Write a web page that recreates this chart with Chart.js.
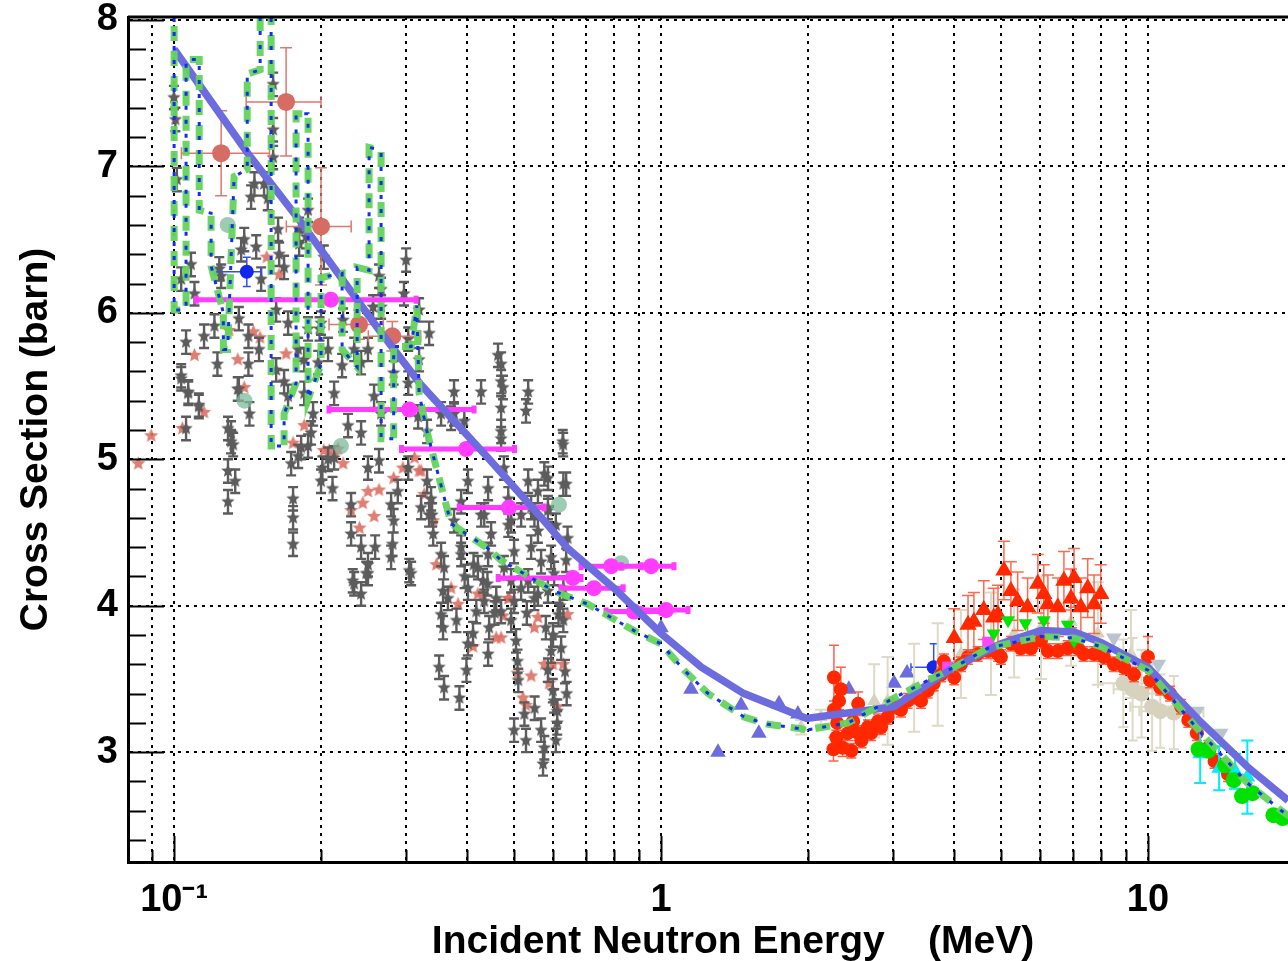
<!DOCTYPE html>
<html>
<head>
<meta charset="utf-8">
<script src="https://cdn.jsdelivr.net/npm/chart.js@4.4.1/dist/chart.umd.min.js"></script>
<style>
  html, body { margin: 0; padding: 0; background: #fff; }
  canvas { display: block; }
</style>
</head>
<body>
<canvas id="xsChart" width="1288" height="961"></canvas>
<script>
// ---- axes ----
const xTicks = [0.09, 0.1, 0.2, 0.3, 0.4, 0.5, 0.6, 0.7, 0.8, 0.9, 1, 2, 3, 4, 5, 6, 7, 8, 9, 10];
const xLabels = { 0.1: '10\u207B\u00B9', 1: '1', 10: '10' };
const yTicks = [];
for (let k = 12; k <= 40; k++) yTicks.push(k / 5);
const xTitle = 'Incident Neutron Energy    (MeV)';
const yTitle = 'Cross Section (barn)';

// ---- evaluated curves ----
const evalE  = [0.1, 0.142, 0.182, 0.262, 0.321, 0.441, 0.575, 0.644, 0.80, 1.0, 1.21, 1.48, 1.99, 3.01, 3.99, 4.99, 6.03, 7.05, 8.0, 10.0, 12.7, 16.0, 19.4, 21];
const evalXS = [7.80, 7.085, 6.62, 5.895, 5.51, 5.01, 4.58, 4.39, 4.12, 3.81, 3.58, 3.40, 3.23, 3.31, 3.58, 3.74, 3.83, 3.82, 3.75, 3.58, 3.22, 2.90, 2.67, 2.55];

const resE  = [0.1, 0.1, 0.1058, 0.1058, 0.1126, 0.1126, 0.1191, 0.1191, 0.1262, 0.1262, 0.1288, 0.1328, 0.1413, 0.1413, 0.1502, 0.1502, 0.1582, 0.1582, 0.1682, 0.1682, 0.1780, 0.1780, 0.1884, 0.1884, 0.2003, 0.2003, 0.2213, 0.2213, 0.2376, 0.2376, 0.2514, 0.2514, 0.2661, 0.2661, 0.2824, 0.2824, 0.3067, 0.3150, 0.3185, 0.3300, 0.3420, 0.3705, 0.4414, 0.4694, 0.516, 0.603, 0.708, 0.880, 1.0, 1.115, 1.249, 1.481, 1.658, 1.938, 1.98, 2.42, 3.01, 3.53, 4.0, 4.69, 6.03, 7.05, 8.0, 10.0, 12.7, 16.0, 18.8, 20.2];
const resXS = [8.3, 6.02, 6.02, 7.73, 7.73, 6.70, 6.68, 6.32, 6.00, 5.75, 5.75, 6.93, 6.98, 7.63, 7.66, 8.3, 8.3, 5.09, 5.09, 5.31, 5.52, 7.36, 7.36, 5.41, 5.65, 6.24, 6.27, 5.75, 5.63, 6.31, 6.29, 7.13, 7.11, 5.14, 5.14, 5.77, 5.77, 6.05, 5.45, 5.20, 5.00, 4.56, 4.39, 4.31, 4.23, 4.10, 4.01, 3.83, 3.74, 3.56, 3.40, 3.24, 3.19, 3.16, 3.15, 3.20, 3.37, 3.49, 3.58, 3.71, 3.79, 3.78, 3.72, 3.56, 3.15, 2.79, 2.60, 2.53];

// ---- measurements below 1 MeV ----
const grayE = [0.0999, 0.1006, 0.1013, 0.1083, 0.1034, 0.1101, 0.1058, 0.1152, 0.1210, 0.1227, 0.1034, 0.1069, 0.1124, 0.1058, 0.1249, 0.1238, 0.1373, 0.1393, 0.1474, 0.1509, 0.1358, 0.1421, 0.1494, 0.1421, 0.1358, 0.1428, 0.1309, 0.1322, 0.1462, 0.1439, 0.1530, 0.1557, 0.1597, 0.1597, 0.1597, 0.1635, 0.1643, 0.1682, 0.1620, 0.1714, 0.1620, 0.1682, 0.1714, 0.1806, 0.1806, 0.1867, 0.2030, 0.1884, 0.1798, 0.1850, 0.1884, 0.1850, 0.1929, 0.2003, 0.2071, 0.2223, 0.2213, 0.2343, 0.2421, 0.2501, 0.2562, 0.2635, 0.2661, 0.2661, 0.2574, 0.2661, 0.2824, 0.2995, 0.2965, 0.3025, 0.3025, 0.3185, 0.3185, 0.3170, 0.3340, 0.2421, 0.2276, 0.2071, 0.1884, 0.1798, 0.1911, 0.2131, 0.1976, 0.1989,
  0.1034, 0.1069, 0.1124, 0.1290, 0.1309, 0.1290, 0.1335, 0.1290, 0.1351, 0.1755, 0.1755, 0.1755, 0.1739, 0.1823, 0.2003, 0.2016, 0.2115, 0.2131, 0.2309, 0.2309, 0.2327, 0.2421, 0.2501, 0.2501, 0.2587, 0.2501, 0.2635, 0.2790, 0.2824, 0.2809, 0.2790, 0.2880, 0.3025, 0.3040, 0.3215, 0.3307, 0.3387, 0.3404, 0.3567, 0.3534, 0.3757, 0.3885, 0.3885, 0.4012, 0.4120, 0.4270, 0.4270, 0.4309, 0.4414, 0.4477, 0.4625, 0.4694, 0.4694, 0.4694, 0.4855, 0.4756, 0.4921, 0.4991, 0.5334, 0.5280, 0.5410, 0.5587, 0.5758, 0.5857, 0.5946, 0.6295, 0.6384, 0.5494, 0.5857, 0.6031, 0.3757, 0.3705, 0.3944, 0.3534, 0.3307, 0.5334, 0.4694, 0.2343, 0.2481, 0.2421,
  0.3534, 0.3567, 0.3501, 0.3584, 0.3854, 0.3984, 0.4012, 0.4110, 0.4174, 0.4334, 0.4435, 0.4414, 0.4587, 0.4694, 0.4921, 0.5037, 0.5073, 0.5091, 0.4991, 0.5241, 0.5280, 0.5671, 0.5758, 0.5723, 0.5857, 0.5946, 0.5994, 0.6031, 0.6120, 0.6120, 0.6080, 0.6234, 0.6300, 0.6300, 0.6384, 0.6427, 0.6158, 0.5587, 0.5334, 0.4991, 0.5494, 0.5587, 0.5857, 0.5857, 0.6300, 0.6281, 0.4735, 0.4694, 0.3757, 0.3371, 0.3339, 0.3067, 0.3584, 0.3885, 0.4012, 0.4206, 0.4414, 0.4334, 0.4855, 0.5160, 0.4756, 0.4921, 0.5160,
  0.5410, 0.5671, 0.6080, 0.6200, 0.5800, 0.5300, 0.6000, 0.6350, 0.6400, 0.5500, 0.3650, 0.3800, 0.3950, 0.4400, 0.4550];
const grayXS = [7.47, 7.32, 6.91, 6.33, 6.23, 6.13, 5.80, 5.84, 5.91, 5.65, 5.57, 5.45, 5.37, 5.21, 6.25, 6.30, 6.43, 6.50, 6.45, 6.23, 5.96, 5.84, 5.75, 5.65, 5.48, 5.31, 5.18, 5.10, 6.88, 6.79, 6.88, 6.78, 7.56, 7.25, 7.06, 6.57, 6.40, 6.31, 6.02, 5.93, 5.61, 5.53, 5.43, 6.57, 6.47, 6.52, 6.38, 6.70, 5.75, 5.68, 5.89, 5.45, 5.31, 5.93, 5.75, 5.95, 5.64, 5.75, 5.66, 5.75, 6.04, 6.25, 6.16, 6.04, 5.43, 5.31, 5.59, 6.36, 6.13, 5.82, 5.52, 6.02, 5.68, 5.29, 5.86, 5.18, 5.23, 5.00, 5.09, 5.02, 5.18, 5.45, 5.66, 5.89,
  5.55, 5.46, 5.36, 5.21, 5.12, 4.92, 4.85, 4.71, 5.48, 4.73, 4.60, 4.42, 4.97, 5.08, 4.85, 4.94, 4.80, 5.01, 4.69, 4.49, 4.17, 4.40, 4.28, 4.22, 4.40, 4.94, 4.99, 4.69, 4.58, 4.42, 4.33, 4.78, 4.94, 4.24, 4.67, 4.85, 4.62, 4.49, 4.10, 4.35, 4.58, 4.40, 4.71, 4.85, 4.28, 4.62, 5.46, 4.17, 4.80, 4.49, 5.71, 5.53, 5.35, 5.14, 4.73, 4.94, 4.58, 4.37, 4.85, 5.33, 4.67, 4.51, 4.90, 4.65, 4.33, 5.10, 4.83, 4.05, 4.10, 4.22, 5.46, 5.28, 5.26, 5.31, 5.19, 5.46, 5.65, 4.15, 4.22, 4.08,
  3.94, 3.85, 3.58, 3.44, 3.37, 3.56, 3.74, 3.81, 3.96, 4.03, 3.85, 3.67, 4.05, 3.96, 3.90, 3.76, 3.62, 3.49, 3.15, 3.26, 3.08, 3.15, 3.03, 2.92, 3.56, 3.69, 3.42, 3.35, 3.28, 3.20, 3.08, 3.71, 3.90, 4.12, 4.31, 4.46, 3.94, 4.08, 4.17, 4.03, 4.62, 4.78, 4.87, 4.67, 4.83, 5.12, 5.49, 5.19, 5.31, 4.73, 4.62, 4.22, 4.26, 4.35, 4.12, 4.26, 4.35, 4.62, 4.55, 4.62, 4.26, 4.17, 4.12,
  4.40, 4.30, 4.55, 4.00, 3.85, 3.95, 3.80, 3.55, 3.40, 3.30, 4.05, 3.90, 4.20, 4.15, 3.95];
const grayErr = 0.08;

const starE  = [0.0844, 0.0897, 0.1101, 0.1152, 0.1040, 0.1297, 0.1351, 0.1455, 0.1501, 0.1393, 0.1698, 0.1755, 0.1850, 0.2030, 0.2131, 0.2223, 0.2501, 0.2635, 0.2440, 0.2574, 0.2403, 0.2309, 0.3215, 0.2824, 0.2950, 0.3117, 0.3455, 0.3705, 0.4309, 0.4875, 0.3829, 0.3185, 0.3263, 0.3404, 0.4110, 0.4587, 0.4735, 0.4694, 0.5587, 0.5494, 0.4855, 0.4206, 0.5073, 0.5410, 0.5206, 0.5280, 0.5758, 0.5994, 0.6300, 0.6120, 0.5891, 0.6427, 0.1550, 0.1643, 0.2081, 0.2171];
const starXS = [4.97, 5.16, 5.71, 5.32, 5.21, 5.88, 5.68, 5.87, 5.83, 5.49, 5.72, 5.11, 5.23, 5.06, 5.03, 4.97, 4.78, 4.79, 4.70, 4.61, 4.53, 4.65, 4.92, 4.87, 4.94, 5.01, 4.28, 4.12, 4.07, 4.05, 4.01, 4.92, 4.76, 4.58, 3.72, 3.78, 3.93, 3.78, 3.92, 3.85, 4.05, 4.08, 3.54, 3.52, 3.37, 3.32, 3.60, 3.60, 3.60, 3.31, 3.47, 3.94, 6.38, 6.26, 5.06, 5.07];

const bigE   = [0.1249, 0.1698, 0.2003, 0.2398, 0.2806];
const bigXS  = [7.09, 7.44, 6.59, 5.92, 5.84];
const bigELo = [0.1035, 0.1406, 0.170, 0.208, 0.2505];
const bigEHi = [0.157, 0.2003, 0.231, 0.269, 0.321];
const bigErr = [0.29, 0.37, 0.40, 0.10, 0.10];

const tealE  = [0.1288, 0.1395, 0.2201, 0.617, 0.828];
const tealXS = [6.60, 5.40, 5.09, 4.69, 4.29];

const magE   = [0.2098, 0.304, 0.398, 0.487, 0.659, 0.728, 0.790, 0.954, 0.880, 1.024];
const magXS  = [6.09, 5.34, 5.07, 4.67, 4.19, 4.12, 4.27, 4.27, 3.96, 3.97];
const magELo = [0.111, 0.208, 0.293, 0.385, 0.463, 0.623, 0.685, 0.828, 0.771, 0.910];
const magEHi = [0.314, 0.413, 0.50, 0.575, 0.685, 0.836, 0.910, 1.063, 1.0, 1.136];

const blueE = [0.141, 3.63], blueXS = [6.28, 3.58];
const blueELo = [0.121, 3.26], blueEHi = [0.151, 3.63], blueErr = [0.10, 0.16];

// ---- measurements above 1 MeV ----
const triE  = [1.0, 1.152, 1.309, 1.46, 1.588, 1.747, 1.91, 2.43, 2.63, 3.01, 3.20];
const triXS = [3.85, 3.43, 3.0, 3.32, 3.13, 3.33, 3.26, 3.43, 3.17, 3.47, 3.54];

const redE   = [2.265, 2.34, 2.32, 2.265, 2.30, 2.29, 2.26, 2.36, 2.42, 2.48, 2.54, 2.54, 2.58, 2.66, 2.70, 2.79, 2.83, 2.92, 3.01, 3.11, 3.21, 3.31, 3.42, 3.53, 3.63, 3.76, 3.81, 4.0, 4.13, 4.27, 4.47, 4.69, 4.92, 4.99, 5.23, 5.48, 5.75, 6.03, 6.23, 6.53, 6.84, 7.18, 7.38, 7.75, 8.12, 8.51, 8.93, 9.36, 10.0, 10.1, 10.6, 11.1, 11.7, 12.1, 12.6, 13.3, 13.7, 14.6, 2.46];
const redXS  = [3.51, 3.43, 3.35, 3.29, 3.20, 3.10, 3.02, 3.03, 3.13, 3.21, 3.33, 3.13, 3.08, 3.17, 3.13, 3.21, 3.17, 3.24, 3.31, 3.29, 3.35, 3.38, 3.35, 3.42, 3.47, 3.53, 3.62, 3.51, 3.60, 3.65, 3.67, 3.69, 3.67, 3.65, 3.74, 3.71, 3.71, 3.76, 3.69, 3.69, 3.71, 3.71, 3.67, 3.67, 3.65, 3.60, 3.58, 3.53, 3.65, 3.49, 3.44, 3.40, 3.31, 3.22, 3.13, 3.03, 2.94, 2.85, 3.01];
const redErr = [0.22, 0.15, 0.06, 0.06, 0.05, 0.05, 0.08, 0.06, 0.05, 0.05, 0.08, 0.05, 0.05, 0.05, 0.05, 0.05, 0.05, 0.05, 0.05, 0.05, 0.05, 0.05, 0.05, 0.05, 0.05, 0.05, 0.05, 0.05, 0.05, 0.05, 0.05, 0.05, 0.05, 0.05, 0.05, 0.05, 0.05, 0.05, 0.05, 0.05, 0.05, 0.05, 0.05, 0.05, 0.05, 0.05, 0.05, 0.05, 0.14, 0.05, 0.05, 0.05, 0.05, 0.05, 0.05, 0.05, 0.05, 0.05, 0.05];

const redTriE  = [4.0, 4.27, 4.39, 4.60, 4.82, 5.06, 5.23, 5.40, 5.66, 5.94, 6.11, 6.23, 6.53, 6.72, 6.95, 7.05, 7.28, 7.52, 7.75, 8.0, 4.92];
const redTriXS = [3.78, 3.87, 3.89, 3.97, 3.92, 4.24, 4.10, 4.03, 3.99, 4.15, 4.08, 4.01, 3.99, 4.17, 4.05, 4.19, 3.99, 4.12, 4.01, 4.08, 3.94];
const redTriErr = 0.2;

const beigeE   = [1.94, 2.13, 2.74, 2.92, 3.31, 3.70, 4.13, 4.76, 5.31, 6.03, 6.95, 7.89, 9.23];
const beigeXS  = [3.17, 3.24, 3.35, 3.35, 3.44, 3.53, 3.67, 3.74, 3.81, 3.85, 3.89, 3.81, 3.67];
const beigeErr = [0.05, 0.05, 0.25, 0.30, 0.30, 0.35, 0.30, 0.35, 0.30, 0.35, 0.30, 0.35, 0.30];
const beigeCE   = [8.9, 9.3, 9.7, 10.2, 10.6, 11.3];
const beigeCXS  = [3.47, 3.43, 3.40, 3.31, 3.28, 3.27];
const beigeCELo = [7.9, 8.5, 8.9, 9.2, 9.6, 10.2];
const beigeCEHi = [10.0, 10.5, 10.8, 11.5, 12.2, 13.0];
const beigeCErr = [0.30, 0.35, 0.30, 0.30, 0.25, 0.25];

const slateE = [8.51, 10.5, 12.6, 14.1], slateXS = [3.78, 3.60, 3.28, 3.13];
const limeTriE = [4.82, 5.16, 5.6, 6.11, 6.84, 7.05], limeTriXS = [3.81, 3.90, 3.88, 3.90, 3.87, 3.76];
const limeE  = [12.7, 13.3, 14.4, 15.0, 15.6, 16.4, 18.1, 18.9];
const limeXS = [3.02, 3.01, 2.91, 2.81, 2.70, 2.72, 2.57, 2.55];
const cyanE = [12.8, 14.0, 15.1, 16.0], cyanXS = [2.99, 2.89, 2.87, 2.83], cyanErr = [0.20, 0.15, 0.12, 0.25];
const sqE = [3.88, 4.69], sqXS = [3.58, 3.75];

const pts = (E, S) => E.map((e, i) => ({ x: e, y: S[i] }));
const isInt = v => Math.abs(v - Math.round(v)) < 1e-6;
const FONT = '"Liberation Sans", Arial, sans-serif';

function starImg(color, r) {
  const c = document.createElement('canvas');
  const s = Math.ceil(r * 2 + 2);
  c.width = c.height = s;
  const g = c.getContext('2d');
  g.fillStyle = color;
  g.beginPath();
  for (let i = 0; i < 10; i++) {
    const a = -Math.PI / 2 + i * Math.PI / 5;
    const rr = i % 2 ? r * 0.45 : r;
    g.lineTo(s / 2 + rr * Math.cos(a), s / 2 + rr * Math.sin(a));
  }
  g.closePath();
  g.fill();
  return c;
}

// error bars, drawn just under each dataset's own markers
const errorBars = {
  id: 'errorBars',
  beforeDatasetDraw(chart, args) {
    const ds = chart.data.datasets[args.index];
    if (ds.errY === undefined && !ds.errLo) return;
    const { ctx, chartArea: a, scales: { x, y } } = chart;
    ctx.save();
    ctx.beginPath();
    ctx.rect(a.left, a.top, a.right - a.left, a.bottom - a.top);
    ctx.clip();
    ctx.strokeStyle = ds.errColor;
    ctx.lineWidth = ds.errWidth || 1.5;
    const cap = ds.cap || 4;
    ctx.beginPath();
    ds.data.forEach((p, i) => {
      const px = x.getPixelForValue(p.x), py = y.getPixelForValue(p.y);
      const e = Array.isArray(ds.errY) ? ds.errY[i] : ds.errY;
      if (e) {
        const y1 = y.getPixelForValue(p.y + e), y2 = y.getPixelForValue(p.y - e);
        ctx.moveTo(px, y1); ctx.lineTo(px, y2);
        ctx.moveTo(px - cap, y1); ctx.lineTo(px + cap, y1);
        ctx.moveTo(px - cap, y2); ctx.lineTo(px + cap, y2);
      }
      if (ds.errLo) {
        const x1 = x.getPixelForValue(ds.errLo[i]), x2 = x.getPixelForValue(ds.errHi[i]);
        ctx.moveTo(x1, py); ctx.lineTo(x2, py);
        ctx.moveTo(x1, py - cap); ctx.lineTo(x1, py + cap);
        ctx.moveTo(x2, py - cap); ctx.lineTo(x2, py + cap);
      }
    });
    ctx.stroke();
    ctx.restore();
  }
};

// inward tick marks, top frame line and the x title
const frame = {
  id: 'frame',
  afterDraw(chart) {
    const { ctx, chartArea: a, scales: { x, y } } = chart;
    ctx.save();
    ctx.strokeStyle = '#000';
    ctx.lineWidth = 2;
    ctx.beginPath();
    yTicks.forEach(v => {
      const py = Math.round(y.getPixelForValue(v)) + 0.5;
      ctx.moveTo(a.left, py);
      ctx.lineTo(a.left + (isInt(v) ? 36 : 18), py);
    });
    xTicks.forEach(v => {
      const px = Math.round(x.getPixelForValue(v)) + 0.5;
      ctx.moveTo(px, a.bottom);
      ctx.lineTo(px, a.bottom - (xLabels[v] ? 26 : 12));
    });
    ctx.stroke();
    ctx.lineWidth = 3;
    ctx.beginPath();
    ctx.moveTo(a.left, a.top);
    ctx.lineTo(a.right, a.top);
    ctx.stroke();
    ctx.fillStyle = '#000';
    ctx.font = 'bold 39px ' + FONT;
    ctx.textAlign = 'center';
    ctx.textBaseline = 'alphabetic';
    ctx.fillText(xTitle, 733, 953);
    ctx.restore();
  }
};

const lineSet = (data, color, width, dash) => ({
  data, showLine: true, pointRadius: 0, borderColor: color, borderWidth: width,
  borderDash: dash, fill: false, tension: 0, borderCapStyle: 'butt'
});

const grayStar = starImg('rgb(92,92,92)', 7);
const salmonStar = starImg('rgba(222,112,100,0.9)', 7.5);

const datasets = [
  lineSet(pts(resE, resXS), 'rgb(20,45,245)', 3, [4, 10]),
  lineSet(pts(resE, resXS), 'rgba(100,212,92,0.95)', 7, [15, 10]),
  lineSet(pts(evalE, evalXS), 'rgb(108,108,222)', 7.5, []),
  { data: pts(limeE, limeXS), pointStyle: 'circle', pointRadius: 8, backgroundColor: 'rgb(0,225,0)', borderWidth: 0 },
  { data: pts(cyanE, cyanXS), pointStyle: 'triangle', pointRadius: 9, backgroundColor: 'rgb(0,235,255)', borderWidth: 0,
    errY: cyanErr, errColor: 'rgb(0,235,255)', errWidth: 2, cap: 6 },
  { data: pts(slateE, slateXS), pointStyle: 'triangle', pointRotation: 180, pointRadius: 9, backgroundColor: 'rgb(185,196,206)', borderWidth: 0 },
  { data: pts(limeTriE, limeTriXS), pointStyle: 'triangle', pointRotation: 180, pointRadius: 8, backgroundColor: 'rgb(0,230,0)', borderWidth: 0 },
  { data: pts(sqE, sqXS), pointStyle: 'rect', pointRadius: 8, backgroundColor: 'rgb(255,70,255)', borderWidth: 0 },
  { data: pts(redTriE, redTriXS), pointStyle: 'triangle', pointRadius: 10, backgroundColor: 'rgb(255,40,0)', borderWidth: 0,
    errY: redTriErr, errColor: 'rgba(255,90,60,0.9)', errWidth: 1.5, cap: 6 },
  { data: pts(redE, redXS), pointStyle: 'circle', pointRadius: 7, backgroundColor: 'rgb(255,40,0)', borderWidth: 0,
    errY: redErr, errColor: 'rgba(255,80,50,0.9)', errWidth: 1.5, cap: 5 },
  { data: pts(beigeCE, beigeCXS), pointStyle: 'circle', pointRadius: 8, backgroundColor: 'rgb(215,210,190)', borderWidth: 0,
    errY: beigeCErr, errLo: beigeCELo, errHi: beigeCEHi, errColor: 'rgb(222,218,200)', errWidth: 2, cap: 5 },
  { data: pts(beigeE, beigeXS), pointStyle: 'triangle', pointRadius: 8, backgroundColor: 'rgb(215,210,190)', borderWidth: 0,
    errY: beigeErr, errColor: 'rgb(222,218,200)', errWidth: 2, cap: 6 },
  { data: pts(triE, triXS), pointStyle: 'triangle', pointRadius: 9, backgroundColor: 'rgb(108,108,222)', borderWidth: 0 },
  { data: pts(magE, magXS), pointStyle: 'circle', pointRadius: 8, backgroundColor: 'rgb(255,60,255)', borderWidth: 0,
    errLo: magELo, errHi: magEHi, errColor: 'rgb(255,60,255)', errWidth: 5, cap: 4 },
  { data: pts(blueE, blueXS), pointStyle: 'circle', pointRadius: 7, backgroundColor: 'rgb(20,40,235)', borderWidth: 0,
    errY: blueErr, errLo: blueELo, errHi: blueEHi, errColor: 'rgb(50,80,235)', errWidth: 1.5, cap: 4 },
  { data: pts(bigE, bigXS), pointStyle: 'circle', pointRadius: 9, backgroundColor: 'rgb(214,108,100)', borderWidth: 0,
    errY: bigErr, errLo: bigELo, errHi: bigEHi, errColor: 'rgb(222,120,110)', errWidth: 1.5, cap: 6 },
  { data: pts(tealE, tealXS), pointStyle: 'circle', pointRadius: 8, backgroundColor: 'rgba(125,185,155,0.75)', borderWidth: 0 },
  { data: pts(grayE, grayXS), pointStyle: grayStar, backgroundColor: 'rgb(92,92,92)',
    errY: grayErr, errColor: 'rgb(92,92,92)', errWidth: 2.4, cap: 5 },
  { data: pts(starE, starXS), pointStyle: salmonStar, backgroundColor: 'rgb(222,112,100)' }
];

new Chart(document.getElementById('xsChart'), {
  type: 'scatter',
  data: { datasets },
  plugins: [errorBars, frame],
  options: {
    responsive: false,
    animation: false,
    devicePixelRatio: 1,
    layout: { autoPadding: false, padding: { top: 17, right: 0, bottom: 0, left: 0 } },
    plugins: { legend: { display: false }, tooltip: { enabled: false } },
    scales: {
      x: {
        type: 'logarithmic',
        min: 0.0804,
        max: 19.39,
        afterBuildTicks: s => { s.ticks = xTicks.map(v => ({ value: v })); },
        afterFit: s => { s.height = 99; s.paddingLeft = 0; s.paddingRight = 0; },
        grid: { color: '#000', lineWidth: 2, drawTicks: false },
        border: { display: true, color: '#000', width: 3, dash: [3, 5] },
        ticks: {
          autoSkip: false, maxRotation: 0, padding: 16, color: '#000',
          font: { family: FONT, size: 38, weight: 'bold' },
          callback: v => xLabels[v] || ''
        }
      },
      y: {
        min: 2.25,
        max: 8.02,
        afterBuildTicks: s => { s.ticks = yTicks.map(v => ({ value: v })); },
        afterFit: s => { s.width = 128; s.paddingTop = 0; s.paddingBottom = 0; },
        grid: {
          color: c => (c.tick && isInt(c.tick.value)) ? '#000' : 'rgba(0,0,0,0)',
          lineWidth: 2, drawTicks: false
        },
        border: { display: true, color: '#000', width: 3, dash: [3, 5] },
        ticks: {
          autoSkip: false, padding: 10, color: '#000',
          font: { family: FONT, size: 38, weight: 'bold' },
          callback: v => isInt(v) ? String(Math.round(v)) : ''
        },
        title: {
          display: true, text: yTitle, color: '#000',
          font: { family: FONT, size: 39, weight: 'bold' },
          padding: { top: 13, bottom: 0 }
        }
      }
    }
  }
});
</script>
</body>
</html>
